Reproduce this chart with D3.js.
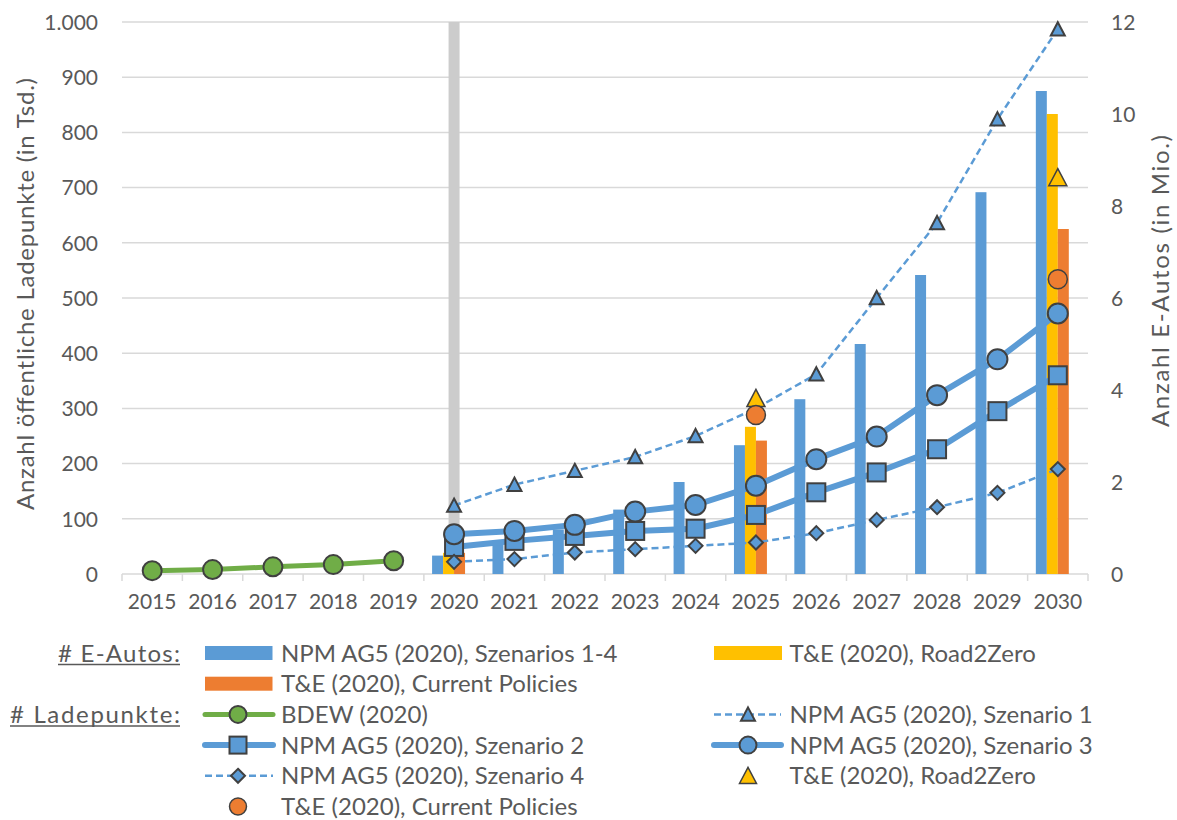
<!DOCTYPE html>
<html><head><meta charset="utf-8">
<script src="https://cdn.jsdelivr.net/npm/d3@7"></script>
<style>
body{margin:0;background:#fff}
text{font-family:Lato,"Open Sans",sans-serif;fill:#595959}
</style>
</head><body>
<svg id="c" width="1177" height="820"></svg>
<script>
// ---------- data ----------
const years = [2015,2016,2017,2018,2019,2020,2021,2022,2023,2024,2025,2026,2027,2028,2029,2030];
const leftTicks = [0,100,200,300,400,500,600,700,800,900,1000];
const rightTicks = [0,2,4,6,8,10,12];
const leftTitle = "Anzahl öffentliche Ladepunkte (in Tsd.)";
const rightTitle = "Anzahl E-Autos (in Mio.)";

// E-Autos (Mio.)
const npmYears = [2020,2021,2022,2023,2024,2025,2026,2027,2028,2029,2030];
const npmCars  = [0.4,0.7,0.97,1.4,2.0,2.8,3.8,5.0,6.5,8.3,10.5];
const teYears  = [2020,2025,2030];
const r2zCars  = [0.46,3.2,10.0];
const cpCars   = [0.46,2.9,7.5];
const markYears = [2020];
const markBar   = [12];

// Ladepunkte (Tsd.)
const bdewYears = [2015,2016,2017,2018,2019];
const bdew = [6,8,13,17,24];
const s1 = [124,162,187,212,250,300,362,500,636,824,987];
const s2 = [49,60,69,78,82,107,148,184,226,295,360];
const s3 = [72,78,89,113,125,160,208,249,324,389,472];
const s4 = [22,27,39,45,51,57,74,98,121,147,190];
const teMarkYears = [2025,2030];
const r2zPoints = [318,718];
const cpPoints  = [288,534];

const legendHeads = ["# E-Autos:","# Ladepunkte:"];
const legendLabels = ["NPM AG5 (2020), Szenarios 1-4","T&E (2020), Road2Zero","T&E (2020), Current Policies",
  "BDEW (2020)","NPM AG5 (2020), Szenario 1","NPM AG5 (2020), Szenario 2","NPM AG5 (2020), Szenario 3",
  "NPM AG5 (2020), Szenario 4","T&E (2020), Road2Zero","T&E (2020), Current Policies"];

// ---------- styles ----------
const BLUE="#5B9BD5", YEL="#FFC000", ORA="#ED7D31", GRN="#70AD47", GRAY="#CCCCCC", MSTROKE="#404040";
const FONT = "Lato,'Open Sans',sans-serif";

const svg = d3.select("#c");
const L=122, R=1088, T=22, B=574;
const x = d3.scaleBand().domain(years).range([L,R]).padding(0);
const cx = y => x(y) + x.bandwidth()/2;
const yL = d3.scaleLinear().domain([0,1000]).range([B,T]);
const yR = d3.scaleLinear().domain([0,12]).range([B,T]);
const sub = d3.scaleBand().domain(["npm","r2z","cp","none"]).range([-x.bandwidth()*0.364, x.bandwidth()*0.364]);
const de = d3.formatLocale({decimal:",",thousands:".",grouping:[3],currency:["","€"]});
const fmt = de.format(",");

// gridlines
svg.append("g").selectAll("line").data(leftTicks).join("line")
  .attr("x1",L).attr("x2",R).attr("y1",d=>yL(d)).attr("y2",d=>yL(d))
  .attr("stroke","#D9D9D9").attr("stroke-width",1.5);
// x tick marks
const bounds = years.map(y=>x(y)).concat([R]);
svg.append("g").selectAll("line").data(bounds).join("line")
  .attr("x1",d=>d).attr("x2",d=>d).attr("y1",B).attr("y2",B+7)
  .attr("stroke","#D9D9D9").attr("stroke-width",1.5);

// left axis labels
const gl = svg.append("g").attr("transform",`translate(${L-24},0)`)
  .call(d3.axisLeft(yL).tickValues(leftTicks).tickFormat(fmt).tickSize(0).tickPadding(0));
gl.select(".domain").remove();
gl.selectAll("text").attr("font-size",21).attr("fill","#595959").attr("font-family",FONT).attr("dy","0.35em");
// right axis labels
const gr = svg.append("g").attr("transform",`translate(${R+23},0)`)
  .call(d3.axisRight(yR).tickValues(rightTicks).tickSize(0).tickPadding(0));
gr.select(".domain").remove();
gr.selectAll("text").attr("font-size",21).attr("fill","#595959").attr("font-family",FONT).attr("dy","0.35em");
// x axis labels
const gx = svg.append("g").attr("transform",`translate(0,${B+20})`)
  .call(d3.axisBottom(x).tickSize(0).tickPadding(0));
gx.select(".domain").remove();
gx.selectAll("text").attr("font-size",21).attr("fill","#595959").attr("font-family",FONT).attr("dy","0.71em");

// axis titles
svg.append("text").attr("transform",`translate(24,294) rotate(-90)`).attr("text-anchor","middle")
  .attr("dominant-baseline","central").attr("font-size",24)
  .attr("textLength",432).attr("lengthAdjust","spacing").text(leftTitle);
svg.append("text").attr("transform",`translate(1159,281) rotate(-90)`).attr("text-anchor","middle")
  .attr("dominant-baseline","central").attr("font-size",24)
  .attr("textLength",292).attr("lengthAdjust","spacing").text(rightTitle);

// gray marker bar
svg.append("g").selectAll("rect").data(markYears.map((y,i)=>({y,v:markBar[i]}))).join("rect")
  .attr("x",d=>cx(d.y)-sub.bandwidth()/2).attr("width",sub.bandwidth())
  .attr("y",d=>yR(d.v)).attr("height",d=>yR(0)-yR(d.v)).attr("fill",GRAY);

// bars
function bars(yrs, vals, key, color){
  svg.append("g").selectAll("rect").data(yrs.map((y,i)=>({y,v:vals[i]}))).join("rect")
    .attr("x",d=>cx(d.y)+sub(key)).attr("width",sub.bandwidth())
    .attr("y",d=>yR(d.v)).attr("height",d=>yR(0)-yR(d.v)).attr("fill",color);
}
bars(npmYears,npmCars,"npm",BLUE);
bars(teYears,r2zCars,"r2z",YEL);
bars(teYears,cpCars,"cp",ORA);

// markers
function marker(g, shape, px, py, s, fill, sw){
  let el;
  if(shape==="circle") el=g.append("circle").attr("cx",px).attr("cy",py).attr("r",s/2);
  else if(shape==="square") el=g.append("rect").attr("x",px-s/2).attr("y",py-s/2).attr("width",s).attr("height",s);
  else if(shape==="triangle") el=g.append("path").attr("d",`M${px},${py-s*0.5}L${px+s/2},${py+s*0.45}L${px-s/2},${py+s*0.45}Z`);
  else if(shape==="diamond") el=g.append("path").attr("d",`M${px},${py-s/2}L${px+s/2},${py}L${px},${py+s/2}L${px-s/2},${py}Z`);
  el.attr("fill",fill).attr("stroke",MSTROKE).attr("stroke-width",sw).attr("stroke-linejoin","miter");
}
const seriesDefs = [
  {yrs:bdewYears, vals:bdew, color:GRN, w:5, dash:null, shape:"circle", size:19, mfill:GRN, sw:2},
  {yrs:npmYears, vals:s1, color:BLUE, w:2.5, dash:"7,4", shape:"triangle", size:14, mfill:BLUE, sw:2},
  {yrs:npmYears, vals:s2, color:BLUE, w:6, dash:null, shape:"square", size:18, mfill:BLUE, sw:2},
  {yrs:npmYears, vals:s3, color:BLUE, w:6, dash:null, shape:"circle", size:20, mfill:BLUE, sw:2},
  {yrs:npmYears, vals:s4, color:BLUE, w:2.5, dash:"7,4", shape:"diamond", size:14, mfill:BLUE, sw:2},
  {yrs:teMarkYears, vals:r2zPoints, color:null, shape:"triangle", size:18, mfill:YEL, sw:1.5},
  {yrs:teMarkYears, vals:cpPoints, color:null, shape:"circle", size:19, mfill:ORA, sw:1.5}
];
const line = d3.line().x(d=>cx(d.y)).y(d=>yL(d.v));
seriesDefs.forEach(s=>{
  const g = svg.append("g");
  const pts = s.yrs.map((y,i)=>({y,v:s.vals[i]}));
  if(s.color){
    g.append("path").datum(pts).attr("d",line).attr("fill","none").attr("stroke",s.color)
      .attr("stroke-width",s.w).attr("stroke-linejoin","round").attr("stroke-linecap",s.dash?"butt":"round")
      .attr("stroke-dasharray",s.dash);
  }
  pts.forEach(p=>marker(g,s.shape,cx(p.y),yL(p.v),s.size,s.mfill,s.sw));
});

// ---------- legend ----------
const lg = svg.append("g");
const rowBase = i => 661.5 + i*30.7;
const colX = [{l1:203,l2:275,m:238,r1:205,r2:272.5,t:281},{l1:712,l2:783,m:748,r1:714,r2:782,t:789.5}];
const headLen = [122,170];
legendHeads.forEach((h,i)=>{
  const row = i===0?0:2;
  lg.append("text").attr("x",180).attr("y",rowBase(row)).attr("text-anchor","end").attr("font-size",24)
    .attr("textLength",headLen[i]).attr("lengthAdjust","spacing").text(h);
  lg.append("line").attr("x1",180-headLen[i]).attr("x2",180).attr("y1",rowBase(row)+3).attr("y2",rowBase(row)+3)
    .attr("stroke","#595959").attr("stroke-width",1.5);
});
const legendPos = [[0,0],[0,1],[1,0],[2,0],[2,1],[3,0],[3,1],[4,0],[4,1],[5,0]];
const legendKind = [{bar:BLUE},{bar:YEL},{bar:ORA}].concat(seriesDefs.map(s=>({s})));
legendLabels.forEach((lab,i)=>{
  const [row,col] = legendPos[i];
  const c = colX[col];
  const yc = rowBase(row)-8.5;
  const k = legendKind[i];
  if(k.bar){
    lg.append("rect").attr("x",c.r1).attr("y",yc-7).attr("width",c.r2-c.r1).attr("height",14).attr("fill",k.bar);
  } else {
    const s=k.s;
    if(s.color){
      lg.append("line").attr("x1",c.l1+2).attr("x2",c.l2-2).attr("y1",yc).attr("y2",yc)
        .attr("stroke",s.color).attr("stroke-width",s.w).attr("stroke-dasharray",s.dash)
        .attr("stroke-linecap",s.dash?"butt":"round");
    }
    marker(lg,s.shape,c.m,yc,Math.min(s.size,17),s.mfill,s.sw);
  }
  lg.append("text").attr("x",c.t).attr("y",rowBase(row)).attr("font-size",24).text(lab);
});
</script>
</body></html>
